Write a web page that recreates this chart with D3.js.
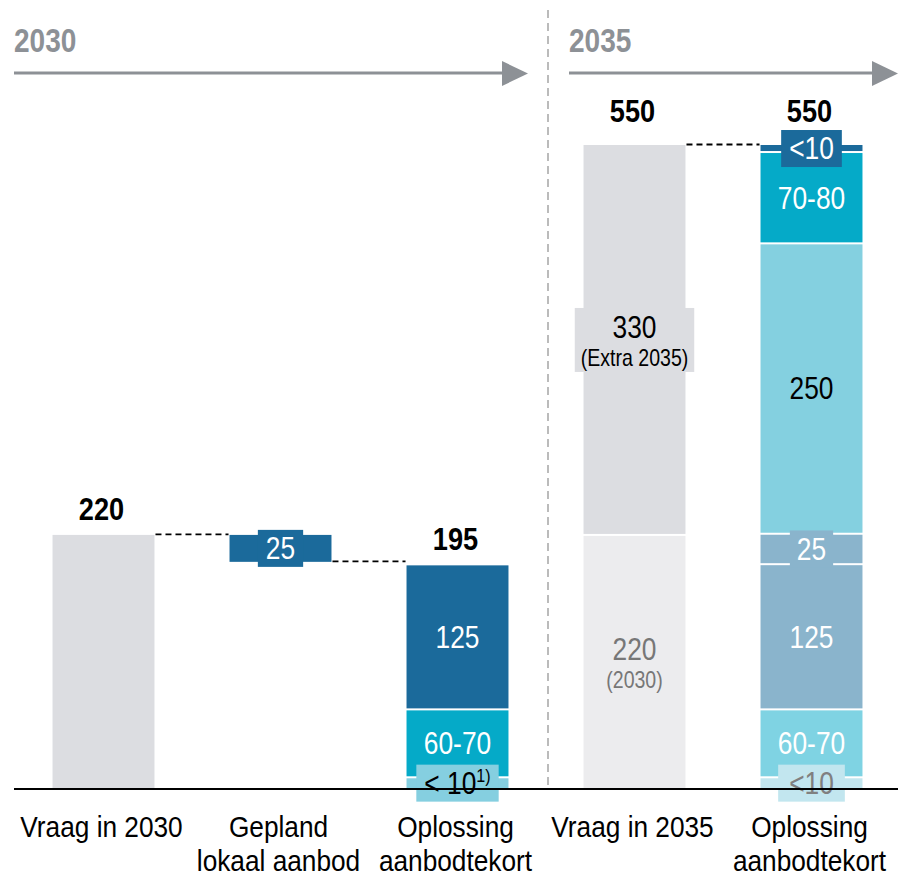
<!DOCTYPE html>
<html>
<head>
<meta charset="utf-8">
<script src="https://cdn.jsdelivr.net/npm/d3@7"></script>
<style>
  body { margin: 0; background: #fff; }
  svg { font-family: "Liberation Sans", Arial, sans-serif; }
</style>
</head>
<body>
<svg id="chart" width="900" height="877"></svg>
<script>
// categories (x axis), one array of lines per bar
const categories = ["vraag2030", "gepland", "opl2030", "vraag2035", "opl2035"];
const catLines = [["Vraag in 2030"], ["Gepland", "lokaal aanbod"], ["Oplossing", "aanbodtekort"],
                  ["Vraag in 2035"], ["Oplossing", "aanbodtekort"]];
const groups = ["2030", "2035"];

// bar totals shown above the bars
const totalLabels = ["220", "", "195", "550", "550"];

// segment heights, bottom to top
const segVraag2030 = [217];
const geplandBase = 194;
const segGepland = [23];
const segOpl2030 = [10, 58, 123];
const segVraag2035 = [217, 333];
const segOpl2035 = [10, 58, 124, 26, 248, 78, 6];

// segment labels
const lblVraag2030 = [""];
const lblGepland = ["25"];
const lblOpl2030 = ["< 10", "60-70", "125"];
const lblVraag2035 = ["220", "330"];
const subVraag2035 = ["(2030)", "(Extra 2035)"];
const lblOpl2035 = ["<10", "60-70", "125", "25", "250", "70-80", "<10"];

// styling (colour, text colour, label box padding or none)
const C = {
  grey: "#dcdde1", greyLight: "#ececee", dark: "#1b6a9b", cyan: "#05aac8",
  cyanLight: "#85cfe0", blueGrey: "#8ab4cc", cyanPale: "#7fd3e3", pale: "#c2e6ef"
};
const styles = {
  vraag2030: [{ fill: C.grey }],
  gepland: [{ fill: C.dark, text: "#fff", box: 8 }],
  opl2030: [{ fill: C.cyanLight, text: "#000", box: 8, sup: "1)" }, { fill: C.cyan, text: "#fff" }, { fill: C.dark, text: "#fff" }],
  vraag2035: [{ fill: C.greyLight, text: "#777" }, { fill: C.grey, text: "#000", box: 6, boxH: 64 }],
  opl2035: [{ fill: C.pale, text: "#808080", box: 11 }, { fill: C.cyanPale, text: "#fff" }, { fill: C.blueGrey, text: "#fff" },
            { fill: C.blueGrey, text: "#fff", box: 7 }, { fill: "#84d0e0", text: "#000" }, { fill: C.cyan, text: "#fff" },
            { fill: C.dark, text: "#fff", box: 8 }]
};

const segs = { vraag2030: segVraag2030, gepland: segGepland, opl2030: segOpl2030, vraag2035: segVraag2035, opl2035: segOpl2035 };
const lbls = { vraag2030: lblVraag2030, gepland: lblGepland, opl2030: lblOpl2030, vraag2035: lblVraag2035, opl2035: lblOpl2035 };
const subs = { vraag2035: subVraag2035 };
const bases = { gepland: geplandBase };

const svg = d3.select("#chart");
const baseY = 789;
const SX = 0.85; // horizontal squeeze, stands in for a narrow font

// condensed text helper
function ntext(parent, x, y, str, size, anchor, sx) {
  return parent.append("text")
    .attr("transform", `translate(${x},${y}) scale(${sx || SX},1)`)
    .attr("text-anchor", anchor || "middle")
    .attr("font-size", size)
    .text(str);
}

const x = d3.scaleBand().domain(categories).range([15, 900]).paddingInner(0.424).paddingOuter(0.212);
const y = d3.scaleLinear().domain([0, 550]).range([baseY, 145]);
const bw = x.bandwidth();

// build stacked rows
const rows = [];
categories.forEach(function(c) {
  let acc = bases[c] || 0;
  const vals = segs[c];
  vals.forEach(function(v, i) {
    rows.push({ cat: c, i: i, n: vals.length, y0: acc, y1: acc + v,
      label: lbls[c][i], sub: subs[c] ? subs[c][i] : null, st: styles[c][i] });
    acc += v;
  });
});

// headers + arrows
const sepX = (x("opl2030") + bw + x("vraag2035")) / 2 + 2;
const hdr = [{ t: groups[0], x0: 14, x1: sepX - 20 }, { t: groups[1], x0: sepX + 21, x1: 898 }];
hdr.forEach(function(h) {
  ntext(svg, h.x0, 52, h.t, 33, "start").attr("font-weight", "bold").attr("fill", "#8d9196");
  svg.append("line").attr("x1", h.x0).attr("x2", h.x1 - 24).attr("y1", 73).attr("y2", 73)
    .attr("stroke", "#8d9196").attr("stroke-width", 3);
  svg.append("path").attr("d", `M${h.x1 - 26},61 L${h.x1},73.5 L${h.x1 - 26},86 Z`).attr("fill", "#8d9196");
});

// vertical separator
svg.append("line").attr("x1", sepX).attr("x2", sepX).attr("y1", 10).attr("y2", baseY)
  .attr("stroke", "#a5a5a5").attr("stroke-width", 1.5).attr("stroke-dasharray", "8,5");

// bars, with a thin white gap between stacked pieces
svg.append("g").selectAll("rect").data(rows).enter().append("rect")
  .attr("x", d => x(d.cat))
  .attr("width", bw)
  .attr("y", d => y(d.y1) + (d.i < d.n - 1 ? 1 : 0))
  .attr("height", d => y(d.y0) - y(d.y1) - (d.i < d.n - 1 ? 1 : 0) - (d.i > 0 ? 1 : 0))
  .attr("fill", d => d.st.fill);

// dashed connectors
const conn = [["vraag2030", "gepland", 217], ["gepland", "opl2030", geplandBase], ["vraag2035", "opl2035", 550]];
conn.forEach(function(c) {
  svg.append("line").attr("x1", x(c[0]) + bw + 1).attr("x2", x(c[1]) - 1)
    .attr("y1", y(c[2]) - 0.5).attr("y2", y(c[2]) - 0.5)
    .attr("stroke", "#000").attr("stroke-width", 1.8).attr("stroke-dasharray", "6,4");
});

// segment labels
const fs = 31;
rows.filter(d => d.label).forEach(function(d) {
  const cx = x(d.cat) + bw / 2;
  const cy = (y(d.y0) + y(d.y1)) / 2;
  const g = svg.append("g");
  const box = g.append("rect");
  let t;
  if (d.sub) {
    t = ntext(g, cx, cy - 2, d.label, fs).attr("fill", d.st.text);
    ntext(g, cx, cy + 26, d.sub, 23).attr("fill", d.st.text);
  } else {
    t = ntext(g, cx, cy + fs * 0.35, d.label, fs).attr("fill", d.st.text);
    if (d.st.sup) t.append("tspan").attr("font-size", 19).attr("dy", -12).text(d.st.sup);
  }
  if (d.st.box != null) {
    const bb = g.node().getBBox();
    const h = d.st.boxH || 37;
    box.attr("x", cx - bb.width / 2 - d.st.box).attr("width", bb.width + 2 * d.st.box)
      .attr("y", cy - h / 2).attr("height", h).attr("fill", d.st.fill);
  } else box.remove();
});

// totals
categories.forEach(function(c, i) {
  if (!totalLabels[i]) return;
  const top = (bases[c] || 0) + d3.sum(segs[c]);
  const off = i < 3 ? 15 : 23;
  ntext(svg, x(c) + bw / 2 - 2, y(top) - off, totalLabels[i], 32).attr("font-weight", "bold");
});

// baseline axis
svg.append("line").attr("x1", 14).attr("x2", 898).attr("y1", baseY).attr("y2", baseY)
  .attr("stroke", "#000").attr("stroke-width", 2);

// x labels
categories.forEach(function(c, i) {
  catLines[i].forEach(function(l, j) {
    ntext(svg, x(c) + bw / 2 - 2, 837 + j * 33.5, l, 30, "middle", 0.875).attr("fill", "#000");
  });
});
</script>
</body>
</html>
